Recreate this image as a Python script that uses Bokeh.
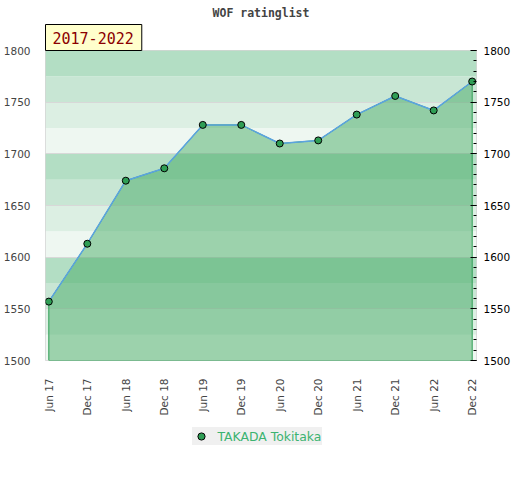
from math import pi
from bokeh.plotting import figure
from bokeh.layouts import column
from bokeh.models import (Range1d, LinearAxis, FixedTicker, SingleIntervalTicker,
                          BoxAnnotation, Title, Legend, LegendItem, ColumnDataSource)
from bokeh.embed import file_html
from bokeh.resources import INLINE

# ---- data ----
tick_labels = ["Jun 17", "Dec 17", "Jun 18", "Dec 18", "Jun 19", "Dec 19",
               "Jun 20", "Dec 20", "Jun 21", "Dec 21", "Jun 22", "Dec 22"]
ratings = [1557, 1613, 1674, 1686, 1728, 1728, 1710, 1713, 1738, 1756, 1742, 1770]
player = "TAKADA Tokitaka"
period = "2017-2022"
chart_title = "WOF ratinglist"
y_min, y_max = 1500, 1800

idx = list(range(len(ratings)))
src = ColumnDataSource(dict(x=idx, y=ratings))

marker_style = dict(size=7, fill_color="#2f9e55", line_color="black", line_width=1)

p = figure(frame_width=431, frame_height=310, output_backend="svg", toolbar_location=None,
           x_range=Range1d(-0.086, len(ratings) - 1 + 0.112),
           y_range=Range1d(y_min, y_max),
           min_border_left=37, min_border_right=38, min_border_top=50,
           min_border_bottom=50, title=None,
           y_axis_location="left")

p.outline_line_color = "#d4d4d4"
p.background_fill_color = "white"
p.border_fill_color = "white"

# titles: period box (next to frame) and main title above it
t_period = Title(text=period, align="left", text_font="DejaVu Sans Mono",
                 text_font_size="15px", text_color="#8b0000", text_font_style="normal",
                 background_fill_color="#ffffcc", border_line_color="black",
                 border_line_width=1, padding=(7, 8, 7, 7), standoff=0, offset=0)
t_main = Title(text=chart_title, align="center", text_font="DejaVu Sans Mono",
               text_font_size="11.5px", text_color="#444444", standoff=6)
p.add_layout(t_period, "above")
p.add_layout(t_main, "above")

# background bands
band_colors = {75: "#b3dec4", 50: "#c8e6d4", 25: "#dcefe3", 0: "#eef7f1"}
bands = []
for lo in range(y_min, y_max, 25):
    b = BoxAnnotation(bottom=lo, top=lo + 25, fill_color=band_colors[lo % 100],
                      fill_alpha=1, line_color=None, level="underlay")
    bands.append(b)
grids = list(p.center)
p.center = bands + grids

p.xgrid.grid_line_color = None
p.ygrid.ticker = SingleIntervalTicker(interval=50)
p.ygrid.grid_line_color = "#d8d8d8"

# area
xs = [idx[0]] + idx + [idx[-1]]
ys = [y_min] + ratings + [y_min]
p.patch(xs, ys, fill_color="#3aa65b", fill_alpha=0.46, line_color="#2e9e55", line_width=1)
p.line("x", "y", source=src, line_color="#5ba3e0", line_width=1.5)
pts = p.scatter("x", "y", source=src, **marker_style)

# x axis
xa = p.xaxis[0]
xa.ticker = FixedTicker(ticks=idx)
xa.major_label_overrides = {i: lab for i, lab in zip(idx, tick_labels)}
xa.major_label_orientation = pi / 2
xa.major_label_text_font = "DejaVu Sans"
xa.major_label_text_font_size = "10.5px"
xa.major_label_text_color = "#444444"
xa.major_label_standoff = 12
xa.axis_line_color = None
xa.major_tick_line_color = None
xa.minor_tick_line_color = None

# left axis
ya = p.yaxis[0]
ya.ticker = SingleIntervalTicker(interval=50)
ya.major_label_text_font = "DejaVu Sans"
ya.major_label_text_font_size = "10.5px"
ya.major_label_text_color = "#444444"
ya.major_label_standoff = 9
ya.axis_line_color = None
ya.major_tick_line_color = None
ya.minor_tick_line_color = None

# right axis
ra = LinearAxis(ticker=SingleIntervalTicker(interval=50, num_minor_ticks=5))
ra.major_label_text_font = "DejaVu Sans"
ra.major_label_text_font_size = "10.5px"
ra.major_label_text_color = "black"
ra.major_label_standoff = 7
ra.axis_line_color = None
ra.major_tick_in = 6
ra.major_tick_out = 0
ra.minor_tick_in = 3
ra.minor_tick_out = 0
ra.major_tick_line_color = "black"
ra.minor_tick_line_color = "black"
p.add_layout(ra, "right")

# legend strip below the chart (its scatter shares the data but lies outside its view)
pl = figure(width=506, height=50, output_backend="svg", toolbar_location=None,
            x_axis_type=None, y_axis_type=None, min_border=0, title=None,
            x_range=Range1d(0, 1), y_range=Range1d(0, 1))
pl.outline_line_color = None
pl.border_fill_color = "white"
pl.background_fill_color = "white"
key = pl.scatter("x", "y", source=src, **marker_style)
legend = Legend(items=[LegendItem(label=player, renderers=[key])],
                location="top_center", orientation="horizontal",
                background_fill_color="#f0f0f0", background_fill_alpha=1,
                border_line_color=None,
                label_text_color="#3cb371", label_text_font="DejaVu Sans",
                label_text_font_size="12.4px",
                padding=1, glyph_width=18, glyph_height=18, label_height=11,
                label_width=104, label_standoff=8, margin=9)
pl.add_layout(legend)

layout = column(p, pl, spacing=0)
open("out.html", "w").write(file_html(layout, INLINE))
